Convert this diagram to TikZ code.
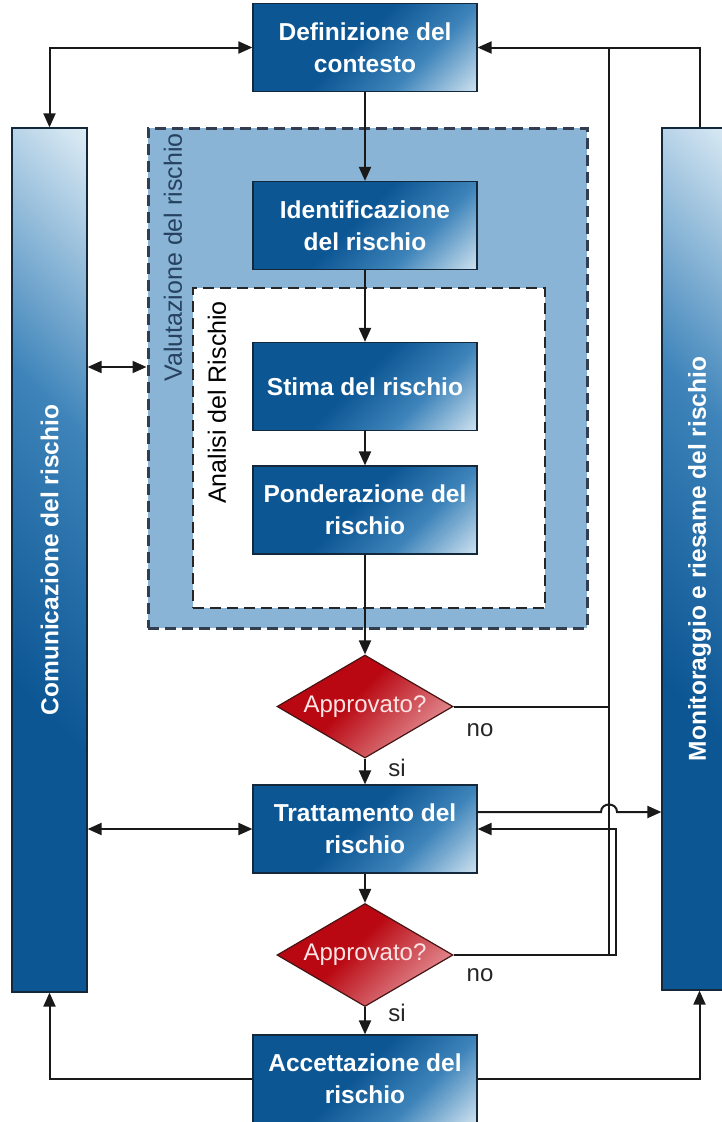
\documentclass[tikz,border=0pt]{standalone}
\usepackage{fontspec}
\setmainfont{Liberation Sans}
\usetikzlibrary{arrows.meta,shapes.geometric,calc}

\definecolor{bdark}{RGB}{12,86,148}
\definecolor{bmid}{RGB}{62,132,186}
\definecolor{blight}{RGB}{226,239,247}
\definecolor{rdark}{RGB}{185,8,18}
\definecolor{rlight}{RGB}{246,205,208}
\definecolor{valfill}{RGB}{137,180,214}
\definecolor{valedge}{RGB}{50,62,80}
\definecolor{vallabel}{RGB}{38,66,96}
\definecolor{linecol}{RGB}{25,25,25}
\definecolor{boxedge}{RGB}{20,40,60}
\definecolor{diaedge}{RGB}{70,20,20}
\definecolor{diatext}{RGB}{252,228,228}

% diagonal fills: dark over most of the shape, light towards one corner
\pgfdeclarehorizontalshading{blueshade}{100bp}{color(0bp)=(bdark); color(47bp)=(bdark); color(66bp)=(bmid); color(88bp)=(blight); color(100bp)=(blight)}
\pgfdeclarehorizontalshading{colshade}{100bp}{color(0bp)=(bdark); color(38bp)=(bdark); color(62bp)=(bmid); color(86bp)=(blight); color(100bp)=(blight)}
\pgfdeclarehorizontalshading{redshade}{100bp}{color(0bp)=(rdark); color(45bp)=(rdark); color(88bp)=(rlight); color(100bp)=(rlight)}

\tikzset{
  stepbox/.style={rectangle, draw=boxedge, line width=1.2pt, shade, shading=blueshade,
    shading angle=-45, minimum width=224pt, minimum height=88pt, inner sep=2pt,
    align=center, text=white, font=\fontsize{24.5}{32}\selectfont\bfseries},
  % tall bars: rotated boxes, so the light corner sits at the top right
  column/.style={stepbox, rotate=90, shading=colshade, shading angle=45, minimum height=75pt},
  decision/.style={diamond, aspect=1.7, draw=diaedge, line width=1.2pt, shade,
    shading=redshade, shading angle=-45, minimum width=176pt, minimum height=103pt,
    inner sep=0pt, text=diatext, font=\fontsize{24}{28}\selectfont},
  valbox/.style={rectangle, fill=valfill, draw=valedge, line width=3pt,
    dash pattern=on 11pt off 6pt},
  anabox/.style={rectangle, fill=white, draw=black!85, line width=2.4pt,
    dash pattern=on 11pt off 6pt},
  grouplabel/.style={rotate=90, font=\fontsize{25}{30}\selectfont},
  lbl/.style={font=\fontsize{24}{28}\selectfont, text=black!85, inner sep=0pt},
  conn/.style={draw=linecol, line width=2pt},
  arr/.style={conn, -{Triangle[length=14pt,width=12pt]}},
  both/.style={conn, {Triangle[length=14pt,width=12pt]}-{Triangle[length=14pt,width=12pt]}}
}

\begin{document}
\begin{tikzpicture}[x=1pt,y=-1pt]
\useasboundingbox (0,0) rectangle (722,1122);

% nested assessment areas
\node[valbox, minimum width=439pt, minimum height=500pt] (valut) at (367.5,378) {};
\node[anabox, minimum width=352pt, minimum height=320pt] (analisi) at (369,448) {};
\node[grouplabel, text=vallabel] (vallbl) at (173,257.5) {Valutazione del rischio};
\node[grouplabel, text=black] (analbl) at (217,402.5) {Analisi del Rischio};

% side columns (rotated: east = top, west = bottom, north = left, south = right)
\node[column, minimum width=864pt] (com) at (49.5,560) {Comunicazione del rischio};
\node[column, minimum width=862pt] (mon) at (699.5,559) {Monitoraggio e riesame del rischio};

% process steps
\node[stepbox] (def) at (365,47.5) {Definizione del\\contesto};
\node[stepbox] (ident) at (365,225.5) {Identificazione\\del rischio};
\node[stepbox] (stima) at (365,386.5) {Stima del rischio};
\node[stepbox] (pond) at (365,510) {Ponderazione del\\rischio};
\node[decision] (dia1) at (365,706.5) {Approvato?};
\node[stepbox] (tratt) at (365,829) {Trattamento del\\rischio};
\node[decision] (dia2) at (365,955) {Approvato?};
\node[stepbox] (acc) at (365,1079) {Accettazione del\\rischio};

% branch labels
\node[lbl] (no1) at (480,730) {no};
\node[lbl] (si1) at (397,768) {si};
\node[lbl] (no2) at (480,975) {no};
\node[lbl] (si2) at (397,1013) {si};

% main flow
\draw[arr] (def.south) -- (ident.north);
\draw[arr] (ident.south) -- (stima.north);
\draw[arr] (stima.south) -- (pond.north);
\draw[arr] (pond.south) -- (dia1.north);
\draw[arr] (dia1.south) -- (tratt.north);
\draw[arr] (tratt.south) -- (dia2.north);
\draw[arr] (dia2.south) -- (acc.north);

% links with the side columns
\draw[both] (com.east) |- (def.west);
\draw[arr] (mon.east) |- (def.east);
\coordinate (cv) at ([yshift=11pt]valut.west);
\draw[both] (com.south |- cv) -- (cv);
\draw[both] (com.south |- tratt.west) -- (tratt.west);
\draw[arr] (acc.west) -| (com.west);
\draw[arr] (acc.east) -| (mon.west);

% "no" branches back to the context and to the treatment
\coordinate (tTop) at (609,47.5);
\coordinate (tBot) at (609,955);
\draw[conn] (tBot) -- (tTop);
\draw[conn] (dia1.east) -- (dia1.east -| tTop);
\coordinate (loopc) at (616,829);
\draw[arr] (dia2.east) -| (loopc) -- (tratt.east);

% treatment to monitoring, hopping over the vertical line
\coordinate (br1) at (601,812);
\coordinate (br2) at (617,812);
\draw[arr] ([yshift=17pt]tratt.east) -- (br1)
  .. controls ($(br1)+(0,-10)$) and ($(br2)+(0,-10)$) .. (br2)
  -- (mon.north |- br2);
\end{tikzpicture}
\end{document}
